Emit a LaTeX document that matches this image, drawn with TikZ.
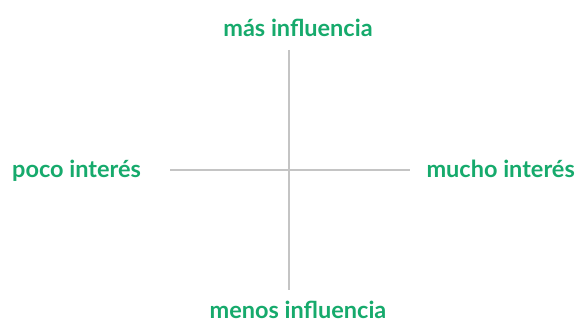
\documentclass[tikz,border=0pt]{standalone}
\usepackage{fontspec}
\setmainfont{Lato}
\definecolor{lblgreen}{RGB}{22,170,108}
\definecolor{axisgray}{RGB}{196,196,196}
\begin{document}
\begin{tikzpicture}[x=1pt,y=1pt,
  lbl/.style={text=lblgreen,font=\fontsize{23.5}{28}\selectfont\bfseries,inner sep=0pt},
  axis/.style={draw=axisgray,line width=2pt}]
\useasboundingbox (0,0) rectangle (587,324);
\coordinate (top) at (289,274);
\coordinate (bot) at (289,34);
\coordinate (lft) at (170,154);
\coordinate (rgt) at (410,154);
\draw[axis] (top) -- (bot);
\draw[axis] (lft) -- (rgt);
\node[lbl,anchor=base] (mas) at (298,287) {más influencia};
\node[lbl,anchor=base] (menos) at (298,5) {menos influencia};
\node[lbl,anchor=base west] (poco) at (12,146) {poco interés};
\node[lbl,anchor=base east] (mucho) at (575,146) {mucho interés};
\end{tikzpicture}
\end{document}
